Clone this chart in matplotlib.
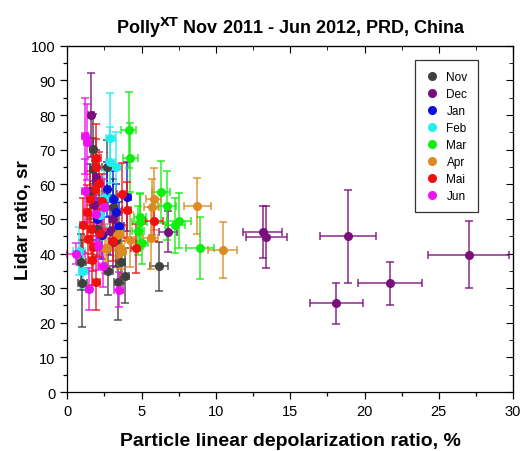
import matplotlib
matplotlib.use("Agg")
import matplotlib.pyplot as plt
from matplotlib.ticker import MultipleLocator
from matplotlib.lines import Line2D
from matplotlib.colors import to_rgba

plt.rcParams['font.family'] = ['Liberation Sans', 'DejaVu Sans']

months = ["Nov", "Dec", "Jan", "Feb", "Mar", "Apr", "Mai", "Jun"]
colors = ["#404040", "#7a0f7a", "#1010d8", "#22eeee", "#10ee10", "#dd8a22", "#ee1010", "#ee10ee"]

nov_x = [1.70, 1.74, 2.64, 3.04, 2.75, 3.42, 3.87, 6.16, 0.95, 1.02, 3.3, 2.0, 3.6, 1.5]
nov_y = [70.2, 64.4, 64.9, 53.4, 35.0, 31.8, 33.6, 36.3, 37.5, 31.4, 44.0, 47.0, 37.5, 58.0]
nov_xerr = [0.2, 0.2, 0.3, 0.3, 0.3, 0.3, 0.3, 0.6, 0.3, 0.3, 0.3, 0.2, 0.3, 0.2]
nov_yerr = [10, 9, 8, 8, 7, 11, 8, 7, 8, 12.5, 8, 8, 6, 8]

dec_x = [13.15, 13.4, 18.9, 18.1, 21.7, 27.0, 1.58, 6.8, 2.9, 3.1, 3.09, 1.9, 1.8]
dec_y = [46.3, 44.7, 45.0, 25.6, 31.4, 39.7, 80.0, 46.3, 46.6, 50.0, 43.4, 62.0, 54.0]
dec_xerr = [1.3, 1.35, 1.9, 1.8, 2.15, 2.7, 0.2, 0.6, 0.3, 0.3, 0.3, 0.2, 0.2]
dec_yerr = [7.5, 9, 13.4, 6, 6.2, 9.8, 12, 6, 7, 7, 7, 8, 7]

jan_x = [4.0, 3.1, 2.3, 3.5, 2.0, 3.3, 2.7]
jan_y = [56.4, 55.8, 45.3, 48.0, 50.0, 52.0, 58.5]
jan_xerr = [0.3, 0.3, 0.25, 0.3, 0.2, 0.3, 0.2]
jan_yerr = [10, 8, 7, 7, 6, 8, 8]

feb_x = [2.9, 2.9, 3.27, 0.77, 1.07, 2.5, 2.2]
feb_y = [73.4, 66.4, 65.1, 40.7, 35.0, 56.0, 51.0]
feb_xerr = [0.3, 0.3, 0.3, 0.4, 0.3, 0.3, 0.25]
feb_yerr = [13, 10, 10, 7, 5, 8, 7]

mar_x = [4.14, 4.25, 6.3, 6.68, 4.88, 4.88, 7.5, 7.24, 4.77, 8.92, 5.0]
mar_y = [75.7, 67.7, 57.7, 53.8, 49.2, 50.5, 49.5, 48.1, 46.6, 41.5, 43.0]
mar_xerr = [0.5, 0.5, 0.6, 0.6, 0.5, 0.4, 0.8, 0.7, 0.4, 0.93, 0.4]
mar_yerr = [11, 10, 9, 10, 8, 7, 8, 8, 7, 9, 6]

apr_x = [5.82, 5.67, 8.74, 5.6, 10.45, 2.53, 3.65, 3.49, 3.31, 3.54, 2.64, 4.2]
apr_y = [55.8, 53.4, 53.7, 44.5, 41.0, 41.5, 40.8, 45.7, 45.4, 41.5, 41.5, 44.0]
apr_xerr = [0.5, 0.5, 0.92, 0.5, 1.0, 0.3, 0.3, 0.3, 0.3, 0.3, 0.3, 0.3]
apr_yerr = [9, 8, 8, 9, 8.2, 7, 7, 7, 6, 6, 6, 8]

mai_x = [1.96, 1.96, 2.12, 2.35, 3.65, 4.0, 5.85, 4.6, 1.96, 1.63, 1.52, 1.85, 1.29, 1.4, 1.07, 3.1, 1.6, 2.2, 1.75]
mai_y = [67.5, 65.0, 60.3, 55.1, 57.2, 52.6, 49.5, 41.5, 31.7, 38.0, 55.8, 58.7, 51.9, 44.2, 48.1, 43.7, 47.0, 46.0, 42.0]
mai_xerr = [0.3, 0.2, 0.2, 0.2, 0.3, 0.3, 0.6, 0.3, 0.25, 0.2, 0.2, 0.2, 0.2, 0.2, 0.2, 0.3, 0.2, 0.25, 0.2]
mai_yerr = [10, 8, 9, 8, 9, 8, 6, 7, 8, 7, 8, 8, 8, 7, 8, 6, 7, 7, 7]

jun_x = [1.18, 1.33, 1.18, 2.5, 1.96, 2.07, 1.43, 2.37, 3.47, 0.6]
jun_y = [74.0, 72.3, 58.2, 53.4, 51.4, 42.2, 29.8, 36.3, 29.6, 40.0]
jun_xerr = [0.2, 0.2, 0.2, 0.2, 0.2, 0.2, 0.2, 0.25, 0.3, 0.6]
jun_yerr = [11, 11, 9, 8, 8, 7, 6, 6, 5, 3]

series = [
    (nov_x, nov_y, nov_xerr, nov_yerr),
    (dec_x, dec_y, dec_xerr, dec_yerr),
    (jan_x, jan_y, jan_xerr, jan_yerr),
    (feb_x, feb_y, feb_xerr, feb_yerr),
    (mar_x, mar_y, mar_xerr, mar_yerr),
    (apr_x, apr_y, apr_xerr, apr_yerr),
    (mai_x, mai_y, mai_xerr, mai_yerr),
    (jun_x, jun_y, jun_xerr, jun_yerr),
]

fig = plt.figure(figsize=(5.22, 4.52), dpi=100)
ax = fig.add_axes([0.129, 0.1305, 0.854, 0.766])

for (x, y, xe, ye), c in zip(series, colors):
    ax.errorbar(x, y, xerr=xe, yerr=ye, fmt='o', color=c, ms=5.5,
                ecolor=to_rgba(c, 0.75), elinewidth=1.3, capsize=3, capthick=1.3,
                clip_on=False)

ax.set_xlim(0, 30)
ax.set_ylim(0, 100)
ax.xaxis.set_major_locator(MultipleLocator(5))
ax.xaxis.set_minor_locator(MultipleLocator(2.5))
ax.yaxis.set_major_locator(MultipleLocator(10))
ax.yaxis.set_minor_locator(MultipleLocator(5))
ax.tick_params(axis='both', which='both', direction='out', labelsize=10.5,
               top=False, right=False)
ax.tick_params(which='major', length=5, width=0.9)
ax.tick_params(which='minor', length=3, width=0.9)

axt = ax.secondary_xaxis('top')
axt.xaxis.set_major_locator(MultipleLocator(5))
axt.xaxis.set_minor_locator(MultipleLocator(2.5))
axt.tick_params(which='both', direction='in', labeltop=False)
axt.tick_params(which='major', length=5)
axt.tick_params(which='minor', length=3)
axr = ax.secondary_yaxis('right')
axr.yaxis.set_major_locator(MultipleLocator(10))
axr.yaxis.set_minor_locator(MultipleLocator(5))
axr.tick_params(which='both', direction='in', labelright=False)
axr.tick_params(which='major', length=5)
axr.tick_params(which='minor', length=3)

for s in ax.spines.values():
    s.set_linewidth(0.9)

ax.set_xlabel("Particle linear depolarization ratio, %", fontsize=14, fontweight='bold', labelpad=10)
ax.set_ylabel("Lidar ratio, sr", fontsize=13.5, fontweight='bold', labelpad=-1)
ax.set_title(r"Polly$^{\mathbf{XT}}$ Nov 2011 - Jun 2012, PRD, China", fontsize=13,
             fontweight='bold', pad=9)

handles = [Line2D([], [], marker='o', ls='none', color=c, ms=5.5) for c in colors]
leg = ax.legend(handles, months, loc='upper right', bbox_to_anchor=(0.935, 0.975),
                fontsize=8.5, frameon=True, fancybox=False, edgecolor='black',
                handletextpad=0.6, borderpad=0.9, labelspacing=0.42, handlelength=1.2)
leg.get_frame().set_linewidth(0.9)

fig.savefig("out.png", dpi=100)
